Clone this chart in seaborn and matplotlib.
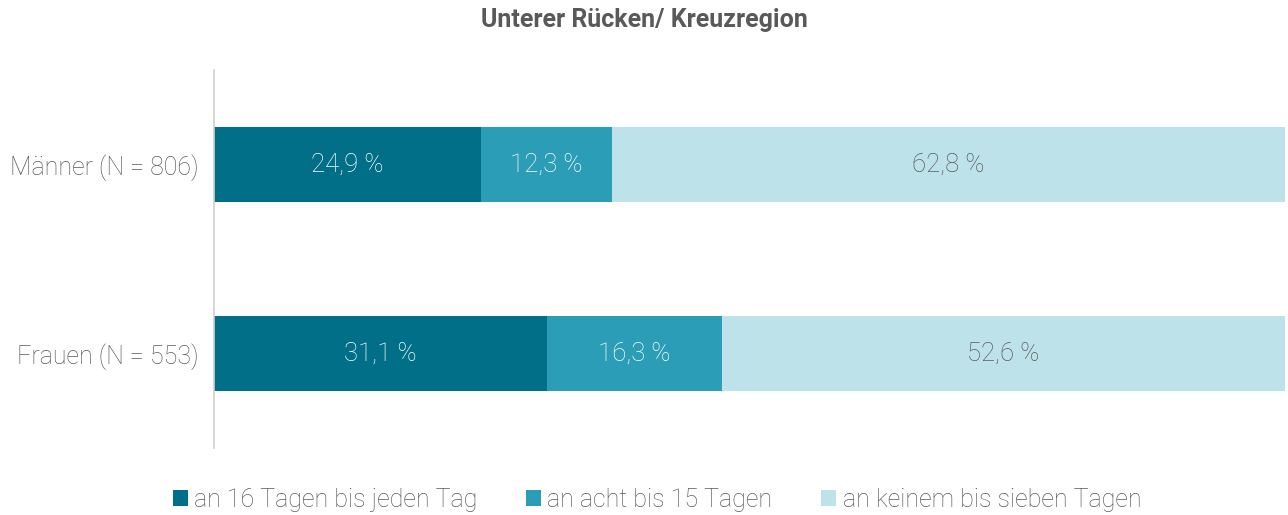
import numpy as np
import pandas as pd
import seaborn as sns
import matplotlib.pyplot as plt
from matplotlib.patches import Patch

groups = ["Männer (N = 806)", "Frauen (N = 553)"]
series = ["an 16 Tagen bis jeden Tag", "an acht bis 15 Tagen", "an keinem bis sieben Tagen"]
daily = [24.9, 31.1]
eight_15 = [12.3, 16.3]
none_7 = [62.8, 52.6]

colors = ["#006F87", "#2C9DB6", "#BEE2EA"]
gray = "#595959"

sns.set_theme(style="white")
plt.rcParams['font.family'] = ['Roboto', 'DejaVu Sans']
plt.rcParams['font.weight'] = 'light'

df = pd.DataFrame({"group": groups, "s1": daily, "s2": eight_15, "s3": none_7})
df["c1"] = df["s1"]
df["c2"] = df["s1"] + df["s2"]
df["c3"] = df["c2"] + df["s3"]

fig = plt.figure(figsize=(12.88, 5.15), dpi=100)
ax = fig.add_axes([214 / 1288, 1 - 448 / 515, (1285 - 214) / 1288, 378 / 515])

# stacked bars: draw cumulative totals back to front
for col, c in zip(["c3", "c2", "c1"], colors[::-1]):
    sns.barplot(data=df, x=col, y="group", color=c, width=0.4, ax=ax,
                saturation=1, linewidth=0)

for i, row in df.iterrows():
    left = 0
    for k, s in enumerate(["s1", "s2", "s3"]):
        v = row[s]
        ax.text(left + v / 2, i, f"{v:.1f} %".replace(".", ","), ha="center", va="center",
                color="white" if k < 2 else gray, fontsize=18.5, fontweight="light")
        left += v

ax.set_xlim(0, 100)
ax.set_ylim(1.5, -0.5)
ax.set_xlabel("")
ax.set_ylabel("")
ax.set_xticks([])
ax.tick_params(axis="y", length=0, labelsize=18, labelcolor=gray, pad=11)
for lab in ax.get_yticklabels():
    lab.set_fontweight("light")
for sp in ["top", "right", "bottom"]:
    ax.spines[sp].set_visible(False)
ax.spines["left"].set_color("#D0D0D0")
ax.spines["left"].set_linewidth(1.2)

fig.text(0.5, 1 - 20 / 515, "Unterer Rücken/ Kreuzregion", ha="center", va="center",
         fontsize=18, fontweight="bold", color=gray)

handles = [Patch(facecolor=c, edgecolor="none") for c in colors]
fig.legend(handles, series, loc="center", bbox_to_anchor=(657 / 1288, 1 - 500 / 515), ncol=3,
           frameon=False, fontsize=18, labelcolor=gray, handlelength=0.6, handleheight=0.6,
           handletextpad=0.25, columnspacing=1.95)

fig.savefig("out.png", dpi=100)
